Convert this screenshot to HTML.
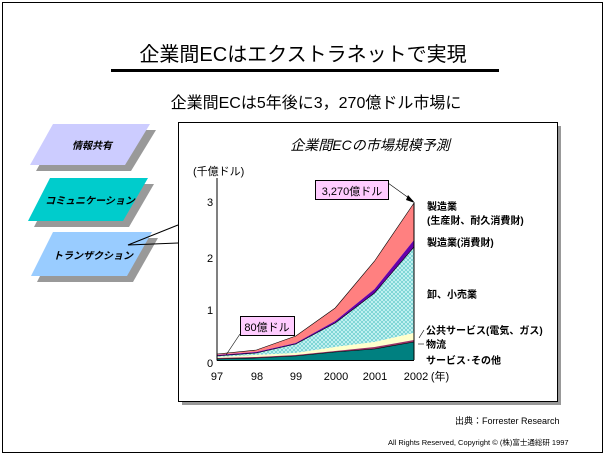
<!DOCTYPE html>
<html><head><meta charset="utf-8"><style>
html,body{margin:0;padding:0;background:#fff;width:606px;height:456px;overflow:hidden}
text{font-family:"Liberation Sans","Noto Sans CJK JP",sans-serif}
</style></head><body>
<svg width="606" height="456" viewBox="0 0 606 456" xmlns="http://www.w3.org/2000/svg">
<defs>
<pattern id="hatch" width="4" height="4" patternUnits="userSpaceOnUse">
<rect width="4" height="4" fill="#ccf5f5"/>
<path d="M0 0L4 4M4 0L0 4" stroke="#66cccc" stroke-width="0.7"/>
</pattern>
</defs>
<rect x="2.5" y="2.5" width="600" height="450" fill="#fff" stroke="#000" stroke-width="1"/>
<text x="303" y="61" font-size="20" text-anchor="middle">企業間ECはエクストラネットで実現</text>
<rect x="111" y="69" width="388" height="3" fill="#000"/>
<text x="316" y="108" font-size="16" text-anchor="middle">企業間ECは5年後に3，270億ドル市場に</text>

<!-- left shapes -->
<polygon points="59,130 156,130 131,171 36,171" fill="#999"/>
<polygon points="53,124 150,124 125,165 30,165" fill="#ccccff"/>
<text x="92" y="149" font-size="10" font-weight="bold" font-style="italic" text-anchor="middle">情報共有</text>
<polygon points="56,184 154,184 129,227 34,227" fill="#999"/>
<polygon points="50,178 148,178 123,221 28,221" fill="#00cccc"/>
<text x="90" y="204" font-size="10" font-weight="bold" font-style="italic" text-anchor="middle">コミュニケーション</text>
<polygon points="59,238 158,238 133,282 37,282" fill="#999"/>
<polygon points="53,232 152,232 127,276 31,276" fill="#99ccff"/>
<text x="93" y="259" font-size="10" font-weight="bold" font-style="italic" text-anchor="middle">トランザクション</text>

<!-- chart box -->
<rect x="182" y="126" width="379" height="279" fill="#999"/>
<rect x="178.5" y="122.5" width="379" height="279" fill="#fff" stroke="#000"/>
<polyline points="178,225 128,245 178,243" fill="none" stroke="#000" stroke-width="1"/>

<text x="370" y="150" font-size="14" font-style="italic" text-anchor="middle">企業間ECの市場規模予測</text>
<text x="193" y="175" font-size="11">(千億ドル)</text>

<!-- areas -->
<polygon points="217,354 256.4,350 295.8,336 335.2,308 374.6,261 414,203 414,240 374.6,289 335.2,321 295.8,343 256.4,352 217,355" fill="#ff8080"/>
<polygon points="217,355 256.4,352 295.8,343 335.2,321 374.6,289 414,240 414,247 374.6,293 335.2,323 295.8,344 256.4,353 217,356" fill="#6600aa"/>
<polygon points="217,356 256.4,353 295.8,344 335.2,323 374.6,293 414,247 414,333 374.6,342 335.2,347 295.8,353 256.4,355 217,357" fill="url(#hatch)"/>
<polygon points="217,357 256.4,355 295.8,353 335.2,347 374.6,342 414,333 414,340 374.6,347 335.2,351 295.8,355 256.4,357 217,358" fill="#ffffcc"/>
<polygon points="217,358 256.4,357 295.8,355 335.2,351 374.6,347 414,340 414,342 374.6,349 335.2,352 295.8,356 256.4,358 217,359" fill="#993366"/>
<polygon points="217,359 256.4,358 295.8,356 335.2,352 374.6,349 414,342 414,360 217,360" fill="#008080"/>
<polyline points="217,354 256.4,350 295.8,336 335.2,308 374.6,261 414,203" fill="none" stroke="#000" stroke-width="0.6"/>
<polyline points="217,356 256.4,353 295.8,344 335.2,323 374.6,293 414,247" fill="none" stroke="#000" stroke-width="0.6"/>
<polyline points="217,359 256.4,358 295.8,356 335.2,352 374.6,349 414,342" fill="none" stroke="#000" stroke-width="0.6"/>

<!-- axes -->
<line x1="217" y1="178" x2="217" y2="360.5" stroke="#000"/>
<line x1="217" y1="360.5" x2="414" y2="360.5" stroke="#000"/>
<line x1="414" y1="203" x2="414" y2="360" stroke="#000"/>
<g font-size="11" text-anchor="middle">
<text x="210" y="206">3</text><text x="210" y="262">2</text><text x="210" y="314">1</text><text x="210" y="367">0</text>
<text x="217" y="380">97</text><text x="257" y="380">98</text><text x="296" y="380">99</text>
<text x="336" y="380">2000</text><text x="375" y="380">2001</text><text x="416" y="380">2002</text>
<text x="440" y="380">(年)</text>
</g>

<!-- callouts -->
<rect x="315.5" y="180.5" width="73" height="19" fill="#ffccff" stroke="#000"/>
<text x="352" y="195" font-size="11" text-anchor="middle">3,270億ドル</text>
<line x1="388" y1="183" x2="413" y2="201" stroke="#000" stroke-width="0.6"/>
<polygon points="408,195 415,203 406,200" fill="#000"/>
<rect x="240.5" y="316.5" width="54" height="19" fill="#ffccff" stroke="#000"/>
<text x="267" y="331" font-size="11" text-anchor="middle">80億ドル</text>
<line x1="240" y1="334" x2="226" y2="355" stroke="#000" stroke-width="0.6"/>

<g font-size="10" font-weight="bold">
<text x="427" y="210">製造業</text>
<text x="427" y="224">(生産財、耐久消費財)</text>
<text x="427" y="246">製造業(消費財)</text>
<text x="427" y="298">卸、小売業</text>
<text x="426" y="334">公共サービス(電気、ガス)</text>
<text x="426" y="348">物流</text>
<text x="426" y="364">サービス･その他</text>
</g>
<line x1="424" y1="330" x2="419" y2="338" stroke="#000" stroke-width="0.6"/>
<line x1="418" y1="344" x2="424" y2="344" stroke="#000" stroke-width="0.6"/>

<text x="455" y="424" font-size="9" font-family="Liberation Serif,'Noto Serif CJK SC',serif">出典：Forrester Research</text>
<text x="388" y="445" font-size="7.5">All Rights Reserved, Copyright © (株)富士通総研 1997</text>
</svg>
</body></html>
